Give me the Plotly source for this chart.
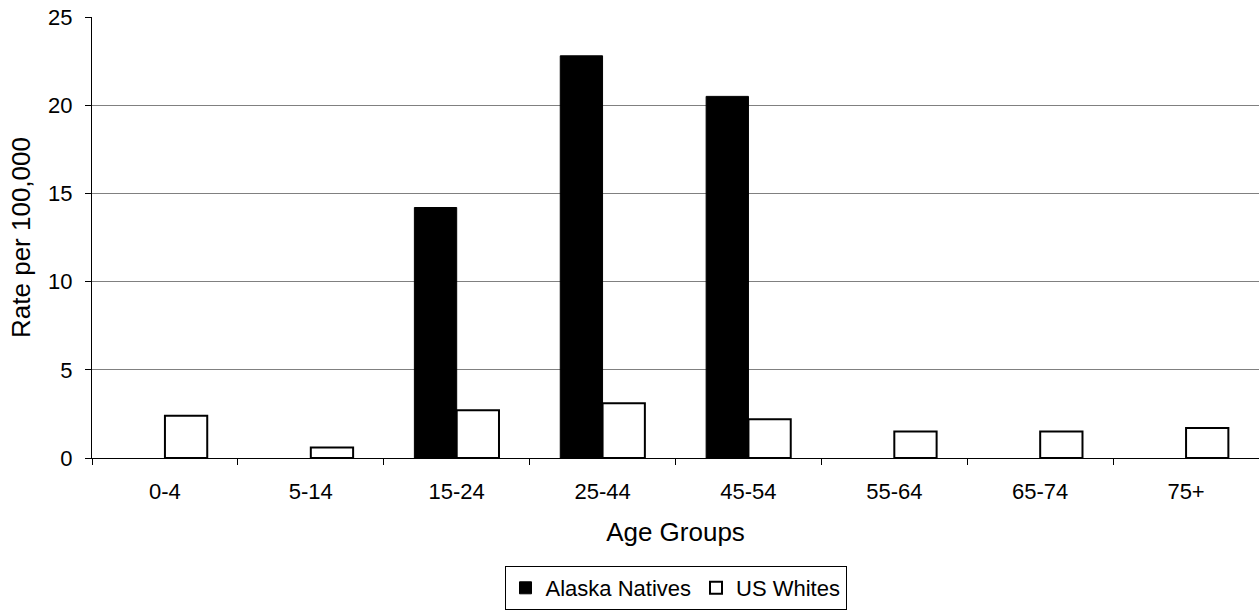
import plotly.graph_objects as go

categories = ["0-4", "5-14", "15-24", "25-44", "45-54", "55-64", "65-74", "75+"]
alaska_natives = [None, None, 14.2, 22.8, 20.5, None, None, None]
us_whites = [2.4, 0.6, 2.7, 3.1, 2.2, 1.5, 1.5, 1.7]
y_ticks = [0, 5, 10, 15, 20, 25]

fig = go.Figure()
fig.add_trace(go.Bar(x=categories, y=alaska_natives, name="Alaska Natives",
                     marker=dict(color="black", line=dict(color="black", width=1))))
fig.add_trace(go.Bar(x=categories, y=us_whites, name="US Whites",
                     marker=dict(color="white", line=dict(color="black", width=2))))

font = dict(family="Liberation Sans, Arial, sans-serif", size=22, color="black")
fig.update_layout(
    width=1259, height=610,
    margin=dict(l=92, r=0, t=17, b=152, autoexpand=False),
    paper_bgcolor="white", plot_bgcolor="white",
    font=font,
    barmode="group", bargap=0.42, bargroupgap=0,
    showlegend=True,
    legend=dict(orientation="h", x=0.5, xanchor="center",
                yref="container", y=0.0, yanchor="bottom",
                bordercolor="black", borderwidth=1, font=font,
                itemwidth=30, traceorder="normal", tracegroupgap=0),
    xaxis=dict(type="category", showline=True, linecolor="black", linewidth=1,
               ticks="outside", tickson="boundaries", ticklen=6, tickcolor="black",
               showgrid=False, automargin=False,
               title=dict(text="Age Groups", standoff=19),
               ticklabelstandoff=14),
    yaxis=dict(range=[0, 25], tickvals=y_ticks, showline=True, linecolor="black", linewidth=1,
               ticks="outside", ticklen=6, tickcolor="black", automargin=False,
               showgrid=True, gridcolor="#808080", gridwidth=1, zeroline=False,
               title=dict(text="Rate per 100,000", standoff=10),
               ticklabelstandoff=8),
)
fig.write_html("out.html", config={"displayModeBar": False},
               post_script="document.body.style.margin='0px';document.body.style.overflow='hidden';")
